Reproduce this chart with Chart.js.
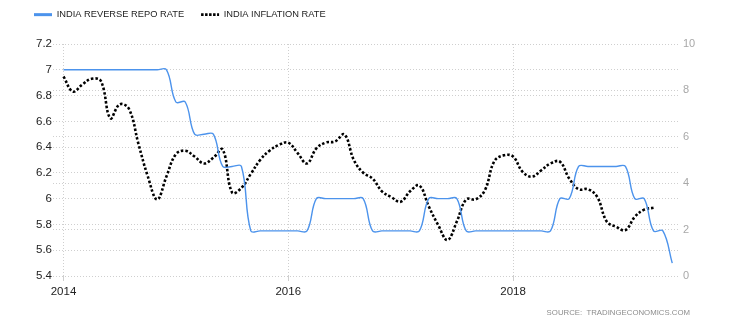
<!DOCTYPE html>
<html>
<head>
<meta charset="utf-8">
<script src="https://cdn.jsdelivr.net/npm/chart.js@4.4.1/dist/chart.umd.min.js"></script>
<style>
html, body { margin: 0; padding: 0; background: #fff; }
canvas { display: block; }
</style>
</head>
<body>
<canvas id="rates" width="734" height="333"></canvas>
<script>
var months = [
    '2014-01', '2014-02', '2014-03', '2014-04', '2014-05', '2014-06', '2014-07', '2014-08', '2014-09', '2014-10', '2014-11', '2014-12',
    '2015-01', '2015-02', '2015-03', '2015-04', '2015-05', '2015-06', '2015-07', '2015-08', '2015-09', '2015-10', '2015-11', '2015-12',
    '2016-01', '2016-02', '2016-03', '2016-04', '2016-05', '2016-06', '2016-07', '2016-08', '2016-09', '2016-10', '2016-11', '2016-12',
    '2017-01', '2017-02', '2017-03', '2017-04', '2017-05', '2017-06', '2017-07', '2017-08', '2017-09', '2017-10', '2017-11', '2017-12',
    '2018-01', '2018-02', '2018-03', '2018-04', '2018-05', '2018-06', '2018-07', '2018-08', '2018-09', '2018-10', '2018-11', '2018-12',
    '2019-01', '2019-02', '2019-03', '2019-04', '2019-05', '2019-06'
];

// reverse repo rate, % (left axis)
var reverseRepo = [
    7, 7, 7, 7, 7, 7, 7, 7, 7, 7, 7, 7,
    6.75, 6.75, 6.5, 6.5, 6.5, 6.25, 6.25, 6.25, 5.75, 5.75, 5.75, 5.75,
    5.75, 5.75, 5.75, 6, 6, 6, 6, 6, 6, 5.75, 5.75, 5.75,
    5.75, 5.75, 5.75, 6, 6, 6, 6, 5.75, 5.75, 5.75, 5.75, 5.75,
    5.75, 5.75, 5.75, 5.75, 5.75, 6, 6, 6.25, 6.25, 6.25, 6.25, 6.25,
    6.25, 6, 6, 5.75, 5.75, 5.5
];

// inflation rate, % (right axis)
var inflation = [
    8.6, 7.95, 8.25, 8.5, 8.4, 6.8, 7.4, 7.2, 5.7, 4.3, 3.3, 4.3,
    5.25, 5.4, 5.15, 4.85, 5.1, 5.45, 3.6, 3.8, 4.4, 5.0, 5.4, 5.65,
    5.75, 5.3, 4.85, 5.5, 5.75, 5.8, 6.1, 5.0, 4.45, 4.2, 3.65, 3.4,
    3.2, 3.65, 3.9, 3.0, 2.2, 1.55, 2.35, 3.3, 3.3, 3.7, 4.95, 5.2,
    5.15, 4.5, 4.28, 4.55, 4.85, 4.93, 4.2, 3.74, 3.74, 3.4, 2.35, 2.12,
    1.98, 2.55, 2.86, 2.94, null, null
];

var yearTicks = ['2014', '2016', '2018'];
var repoTicks = { min: 5.4, max: 7.2, step: 0.2 };
var inflationTicks = { min: 0, max: 10, step: 2 };
var sourceText = 'SOURCE:  TRADINGECONOMICS.COM';

var gridColor = '#cfcfcf';
Chart.defaults.font.family = "'Liberation Sans', Arial, sans-serif";

function toPoints(values) {
    return values.map(function(v, i) { return { x: i, y: v }; });
}

// extra room between the legend row and the plot
var legendGap = {
    id: 'legendGap',
    beforeInit: function(chart) {
        var legend = chart.legend;
        if (!legend) return;
        var fit = legend.fit;
        legend.fit = function() {
            fit.call(legend);
            legend.height += 14.7;
        };
    }
};

// source line in the bottom right corner
var sourceNote = {
    id: 'sourceNote',
    afterDraw: function(chart) {
        var ctx = chart.ctx;
        ctx.save();
        ctx.font = "7.8px 'Liberation Sans', Arial, sans-serif";
        ctx.fillStyle = '#8c8c8c';
        ctx.textAlign = 'right';
        ctx.textBaseline = 'middle';
        ctx.fillText(sourceText, 690, 312.5);
        ctx.restore();
    }
};

new Chart(document.getElementById('rates'), {
    type: 'line',
    data: {
        datasets: [
            {
                label: 'INDIA REVERSE REPO RATE',
                data: toPoints(reverseRepo),
                yAxisID: 'yRepo',
                borderColor: '#4c93ec',
                borderWidth: 1.4,
                tension: 0.4,
                pointRadius: 0,
                fill: false
            },
            {
                label: 'INDIA INFLATION RATE',
                data: toPoints(inflation),
                yAxisID: 'yInflation',
                borderColor: '#000',
                borderWidth: 2.6,
                borderDash: [2.5, 2],
                tension: 0.4,
                pointRadius: 0,
                fill: false
            }
        ]
    },
    options: {
        responsive: false,
        animation: false,
        layout: { padding: { top: -7, left: 17, right: 30, bottom: 33 } },
        plugins: {
            tooltip: { enabled: false },
            legend: {
                position: 'top',
                align: 'start',
                labels: {
                    usePointStyle: true,
                    pointStyle: 'line',
                    pointStyleWidth: 18,
                    padding: 17,
                    color: '#222',
                    font: { size: 9.3 },
                    generateLabels: function(chart) {
                        return Chart.defaults.plugins.legend.labels.generateLabels(chart).map(function(item, i) {
                            item.lineWidth = i === 0 ? 3 : 2.6;
                            item.lineDash = i === 0 ? [] : [2.5, 1.5];
                            return item;
                        });
                    }
                }
            }
        },
        scales: {
            x: {
                type: 'linear',
                min: -1.12,
                max: 65.72,
                afterBuildTicks: function(scale) {
                    scale.ticks = yearTicks.map(function(y) { return { value: months.indexOf(y + '-01') }; });
                },
                afterFit: function(scale) { scale.height = 24; },
                ticks: {
                    color: '#222',
                    font: { size: 11.5 },
                    padding: 4,
                    maxRotation: 0,
                    callback: function(v) { return months[v].slice(0, 4); }
                },
                grid: { color: gridColor, tickLength: 5 },
                border: { display: false, dash: [1, 2] }
            },
            yRepo: {
                position: 'left',
                min: repoTicks.min,
                max: repoTicks.max,
                afterFit: function(scale) { scale.width = 36; },
                ticks: {
                    stepSize: repoTicks.step,
                    color: '#222',
                    font: { size: 11.5 },
                    padding: 1,
                    callback: function(v) { return String(+v.toFixed(1)); }
                },
                grid: { color: gridColor, drawTicks: false },
                border: { display: false, dash: [1, 2] }
            },
            yInflation: {
                position: 'right',
                min: inflationTicks.min,
                max: inflationTicks.max,
                afterFit: function(scale) { scale.width = 25; },
                ticks: {
                    stepSize: inflationTicks.step,
                    color: '#a8a8a8',
                    font: { size: 11 },
                    padding: 4
                },
                grid: { color: gridColor, drawTicks: false },
                border: { display: false, dash: [1, 2] }
            }
        }
    },
    plugins: [legendGap, sourceNote]
});
</script>
</body>
</html>
